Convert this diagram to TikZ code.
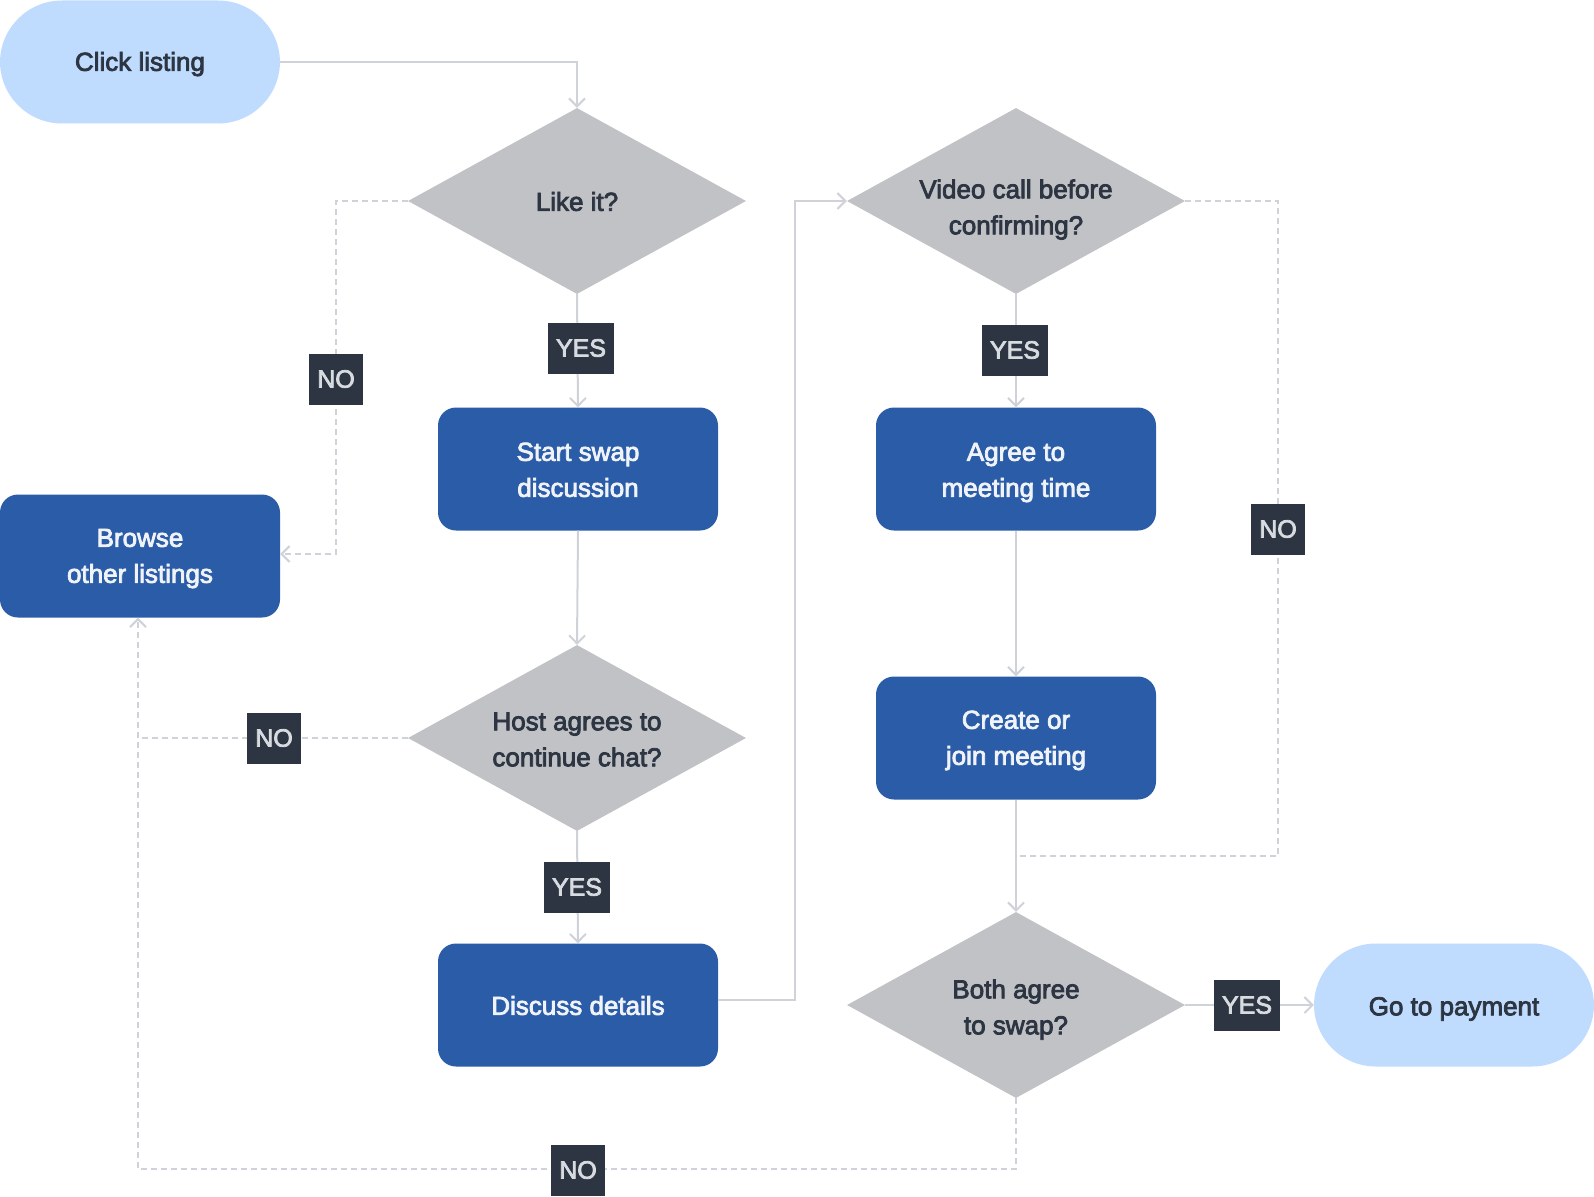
\documentclass[tikz,border=0pt]{standalone}
\usepackage{fontspec}
\setmainfont{Liberation Sans}
\newfontfamily\dfont{Liberation Sans}[FakeBold=3]
\usetikzlibrary{shapes.geometric,arrows.meta}
\definecolor{pillc}{HTML}{BFDBFE}
\definecolor{bluec}{HTML}{2A5CA8}
\definecolor{diac}{HTML}{C1C2C6}
\definecolor{darkc}{HTML}{2C3541}
\definecolor{labtxt}{HTML}{D8DBE0}
\definecolor{linec}{HTML}{CFD3D9}
\definecolor{boxtxt}{HTML}{F0F3F8}
\newcommand\nodetxt[2]{\rule{0pt}{#1}#2\rule[-10.8pt]{0pt}{10.8pt}}
\begin{document}
\begin{tikzpicture}[x=1pt,y=-1pt,
  txt/.style={font=\dfont\fontsize{26}{36}\selectfont, align=center},
  pill/.style={txt, rectangle, rounded corners=62pt, fill=pillc, text=darkc, minimum width=280pt, minimum height=123pt, inner sep=0pt},
  bbox/.style={txt, rectangle, rounded corners=18pt, fill=bluec, text=boxtxt, minimum width=280pt, minimum height=123pt, inner sep=0pt},
  dia/.style={txt, diamond, fill=diac, text=darkc, minimum width=338pt, minimum height=186pt, inner sep=-12pt, aspect=1.82},
  lab/.style={font=\dfont\fontsize{25}{30}\selectfont, fill=darkc, text=labtxt, minimum height=51pt, inner xsep=8pt, inner ysep=0pt},
  conn/.style={draw=linec, line width=2pt},
  arr/.style={conn, -{Straight Barb[length=8pt,width=16pt]}},
  dashedline/.style={dash pattern=on 6pt off 4pt}
]
\useasboundingbox (0,0) rectangle (1594,1196);
\node[pill] (click) at (140,62) {\nodetxt{28.4pt}{Click listing}};
\node[dia] (like) at (577,201) {\nodetxt{30.4pt}{Like it?}};
\node[bbox] (start) at (578,469) {\nodetxt{30.4pt}{Start swap\\discussion}};
\node[bbox] (browse) at (140,556) {\nodetxt{28.4pt}{Browse\\other listings}};
\node[dia] (host) at (577,738) {\nodetxt{31.4pt}{Host agrees to\\continue chat?}};
\node[bbox] (disc) at (578,1005) {\nodetxt{30.4pt}{Discuss details}};
\node[dia] (video) at (1016,201) {\nodetxt{41.4pt}{Video call before\\confirming?}};
\node[bbox] (agree) at (1016,469) {\nodetxt{30.4pt}{Agree to\\meeting time}};
\node[bbox] (create) at (1016,738) {\nodetxt{28.4pt}{Create or\\join meeting}};
\node[dia] (both) at (1016,1005) {\nodetxt{33.4pt}{Both agree\\to swap?}};
\node[pill] (pay) at (1454,1005) {\nodetxt{31.4pt}{Go to payment}};

\coordinate (c1) at (577,62);
\coordinate (n1a) at (336,201);
\coordinate (n1b) at (336,554);
\coordinate (n2a) at (138,738);
\coordinate (d1) at (795,1000);
\coordinate (d2) at (795,201);
\coordinate (v1) at (1278,201);
\coordinate (v2) at (1278,856);
\coordinate (v3) at (1016,856);
\coordinate (b1) at (1016,1169);
\coordinate (b2) at (138,1169);

\draw[arr] (click.east) -- (c1) -- (like.north);
\draw[arr] (like.south) -- (start.north);
\draw[arr,dashedline] (like.west) -- (n1a) -- (n1b) -- (n1b -| browse.east);
\draw[arr] (start.south) -- (host.north);
\draw[conn,dashedline] (host.west) -- (n2a);
\draw[arr] (host.south) -- (disc.north);
\draw[arr] (disc.east |- d1) -- (d1) -- (d2) -- (video.west);
\draw[arr] (video.south) -- (agree.north);
\draw[conn,dashedline] (video.east) -- (v1) -- (v2) -- (v3);
\draw[arr] (agree.south) -- (create.north);
\draw[arr] (create.south) -- (both.north);
\draw[arr] (both.east) -- (pay.west);
\draw[arr,dashedline] (both.south) -- (b1) -- (b2) -- (b2 |- browse.south);

\node[lab] (y1) at (581,348) {YES};
\node[lab] (no1) at (336,379) {NO};
\node[lab] (no2) at (274,738) {NO};
\node[lab] (y2) at (577,887) {YES};
\node[lab] (y3) at (1015,350) {YES};
\node[lab] (no3) at (1278,529) {NO};
\node[lab] (y4) at (1247,1005) {YES};
\node[lab] (no4) at (578,1170) {NO};
\end{tikzpicture}
\end{document}
